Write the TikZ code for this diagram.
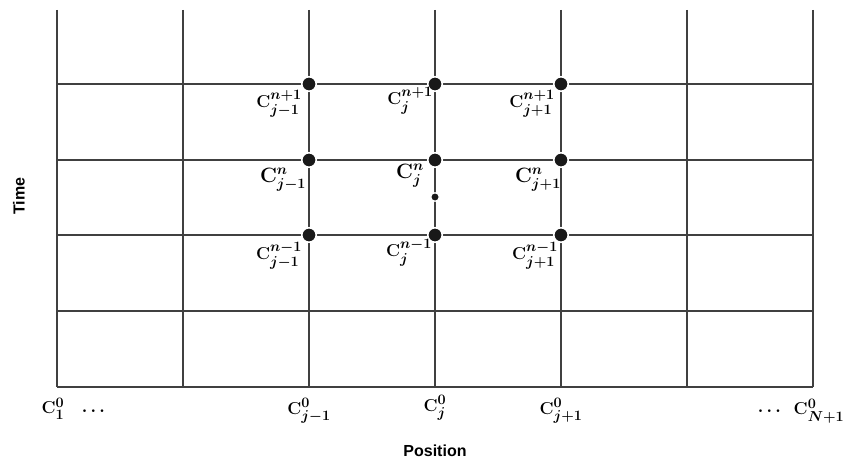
\documentclass[tikz,border=0pt]{standalone}
\usepackage{fontspec}
\usepackage{amsmath}
\usepackage{bm}
\DeclareMathSizes{19}{19}{13.5}{10}
\DeclareMathSizes{20}{20}{14}{10}
\newfontfamily\axisfont{Liberation Sans}
\tikzset{
  gridline/.style={line width=1.3pt, draw=black!75},
  bigdot/.style={circle, fill=black!90, draw=white, line width=1.6pt, minimum size=14.5pt, inner sep=0pt},
  smalldot/.style={circle, fill=black!90, draw=white, line width=1.2pt, minimum size=8.5pt, inner sep=0pt},
  lab/.style={font=\fontsize{19}{21}\selectfont\boldmath, inner sep=0pt},
  labn/.style={font=\fontsize{20}{22}\selectfont\boldmath, inner sep=0pt},
  axislab/.style={font=\axisfont\bfseries\fontsize{16}{18}\selectfont, inner sep=0pt}
}
\begin{document}
\begin{tikzpicture}[x=1pt,y=-1pt]
\useasboundingbox (0,0) rectangle (854,460);
% vertical grid lines
\foreach \x in {57,183,309,435,561,687,813}
  \draw[gridline] (\x,10) -- (\x,387);
% horizontal grid lines
\foreach \y in {84,160,235,311,387}
  \draw[gridline] (57,\y) -- (813,\y);
% nodes of the computational stencil
\node[bigdot] (a1) at (309,84) {};
\node[bigdot] (a2) at (435,84) {};
\node[bigdot] (a3) at (561,84) {};
\node[bigdot] (b1) at (309,160) {};
\node[bigdot] (b2) at (435,160) {};
\node[bigdot] (b3) at (561,160) {};
\node[bigdot] (c1) at (309,235) {};
\node[bigdot] (c2) at (435,235) {};
\node[bigdot] (c3) at (561,235) {};
\node[smalldot] (m) at (435,197) {};
% labels of the stencil points
\node[lab] (la1) at (279,104) {$\mathbf{C}_{j-1}^{n+1}$};
\node[lab] (la2) at (410,101) {$\mathbf{C}_{j}^{n+1}$};
\node[lab] (la3) at (532,104) {$\mathbf{C}_{j+1}^{n+1}$};
\node[labn] (lb1) at (283,180) {$\mathbf{C}_{j-1}^{n}$};
\node[labn] (lb2) at (410,176) {$\mathbf{C}_{j}^{n}$};
\node[labn] (lb3) at (538,180) {$\mathbf{C}_{j+1}^{n}$};
\node[lab] (lc1) at (279,256) {$\mathbf{C}_{j-1}^{n-1}$};
\node[lab] (lc2) at (409,253) {$\mathbf{C}_{j}^{n-1}$};
\node[lab] (lc3) at (535,256) {$\mathbf{C}_{j+1}^{n-1}$};
% initial values along the position axis
\node[lab] (p1) at (53,409) {$\mathbf{C}_{1}^{0}$};
\node[lab] (d1) at (95,411) {$\boldsymbol{\cdots}$};
\node[lab] (p2) at (309,411) {$\mathbf{C}_{j-1}^{0}$};
\node[lab] (p3) at (435,408) {$\mathbf{C}_{j}^{0}$};
\node[lab] (p4) at (561,411) {$\mathbf{C}_{j+1}^{0}$};
\node[lab] (d2) at (771,411) {$\boldsymbol{\cdots}$};
\node[lab] (p5) at (819,411) {$\mathbf{C}_{N+1}^{0}$};
% axis titles
\node[axislab] (xt) at (435,451) {Position};
\node[axislab, rotate=90] (yt) at (19,196) {Time};
\end{tikzpicture}
\end{document}
